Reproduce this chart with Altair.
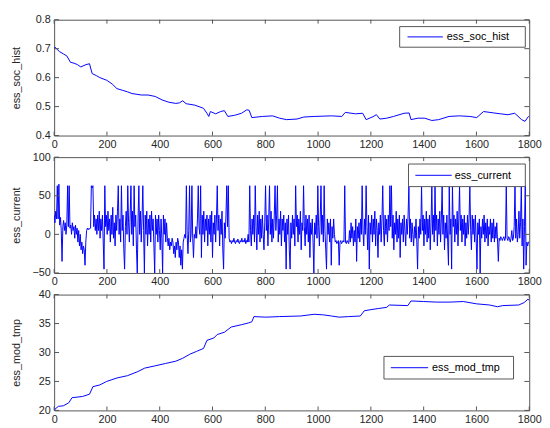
import altair as alt
import pandas as pd

# ---------------- data ----------------
XTICKS = [0, 200, 400, 600, 800, 1000, 1200, 1400, 1600, 1800]

T_SOC = [0, 3, 20, 35, 48, 62, 75, 88, 101, 121, 134, 144, 160, 173, 199, 220, 238, 260, 278, 295,
         310, 330, 356, 383, 409, 435, 461, 475, 487, 500, 533, 566, 579, 586, 592, 612, 631, 645, 658, 684,
         710, 730, 739, 749, 789, 828, 854, 880, 920, 946, 985, 1051, 1090, 1103, 1142, 1169, 1182, 1208, 1221, 1234,
         1260, 1286, 1326, 1345, 1352, 1378, 1404, 1431, 1457, 1496, 1535, 1575, 1601, 1627, 1666, 1692, 1719, 1745,
         1771, 1784, 1797, 1800]
SOC = [0.700, 0.705, 0.690, 0.682, 0.675, 0.653, 0.650, 0.645, 0.637, 0.645, 0.648, 0.614, 0.607, 0.600, 0.591,
       0.578, 0.562, 0.556, 0.551, 0.545, 0.543, 0.540, 0.540, 0.535, 0.523, 0.515, 0.511, 0.513, 0.520, 0.510,
       0.505, 0.494, 0.477, 0.466, 0.483, 0.475, 0.483, 0.486, 0.466, 0.470, 0.477, 0.489, 0.487, 0.462, 0.466,
       0.468, 0.460, 0.455, 0.457, 0.464, 0.466, 0.468, 0.466, 0.480, 0.475, 0.477, 0.455, 0.465, 0.472, 0.457,
       0.460, 0.466, 0.477, 0.478, 0.455, 0.460, 0.460, 0.452, 0.455, 0.466, 0.468, 0.466, 0.462, 0.483, 0.478,
       0.475, 0.472, 0.477, 0.455, 0.449, 0.466, 0.466]

# current sampled every 3 s (t = 0, 3, ..., 1800), one row per minute
T_CUR = list(range(0, 1801, 3))
CUR = [
    25, 15, 30, 20, 63, 20, 65, 12, 22, 5, -35, 10, 18, 5, 15, 0, 12, 63, 10, 63,
    8, 12, 0, 15, 5, 10, -5, 12, 0, 8, -10, 5, -15, 0, -20, -10, -25, -15, -20, -40,
    -10, 5, 8, 6, 8, 7, 8, 63, 60, 63, 10, 25, 5, 20, 0, 25, 5, 30, -5, 20,
    5, 25, -10, -45, 63, 10, 25, 0, 30, 5, 20, -10, 25, 0, 35, -5, 15, -15, 25, 5,
    30, 63, 0, 20, -10, 63, 5, 25, -20, -45, 10, 30, 0, 63, 15, -10, 25, 63, 0, 30,
    -15, 63, 10, 25, -20, -50, 20, 63, 0, 30, -10, 20, 63, 5, -50, 25, 0, 30, -15, 20,
    0, 25, -10, 30, 5, 20, -15, -50, 25, 0, 20, -10, 25, 5, -20, 20, -5, -50, 25, 0,
    20, -10, 15, -5, -15, -5, -20, -10, -15, -5, -10, -25, -15, -30, -10, -20, -5, -10, -30, -15,
    -40, -20, -45, -10, -5, 0, -5, 63, 0, -25, 5, 63, -10, 0, 63, -5, -30, 0, -5, 10,
    -5, 20, 63, 10, 0, 63, -30, 25, 0, 30, -10, 20, 5, 25, -15, 20, 0, 25, -10, 30,
    -30, 15, 0, 25, -10, 20, 63, 5, 25, -15, 20, 0, 30, -20, -45, 15, -5, 25, 63, 10,
    63, -5, -10, -8, -12, -8, -10, -5, -10, -12, -8, -10, -6, -10, -12, -8, -10, -5, -10, -8,
    -10, -5, -12, -8, -10, 0, -10, 63, 5, -15, 20, 0, 25, -10, 63, 10, -20, 25, 0, 30,
    -10, 20, -5, 25, 0, -20, 15, 63, 5, 25, -15, 20, 63, 0, 30, -10, 20, -5, 25, 63,
    5, 25, 63, -10, 20, 0, 30, -15, 20, 5, 25, -10, 15, -45, 20, 0, 25, -20, -45, 15,
    -5, 25, 0, 20, -15, 63, 10, 25, -10, 20, 0, 30, -20, 15, 5, 63, 10, -15, 25, 0,
    20, -10, 25, -30, 15, 0, 20, -10, -50, 15, 0, 25, -5, 63, 10, -15, 20, 63, 0, 25,
    -10, 63, 5, -20, -45, 20, 0, 15, -10, 20, -40, 10, -5, 20, 0, -10, -8, -12, -10, -8,
    -40, -10, -8, -12, -10, -8, -10, 63, -10, -12, -8, -10, -12, 5, -10, 15, -5, 10, -15, 5,
    -10, 20, -35, 10, -5, 15, -10, 20, 0, 63, 5, -15, 20, 0, 63, 10, -20, 25, -45, 15,
    0, 25, -10, 20, 0, 30, -15, 20, 5, -30, 15, 0, 25, -10, 20, 63, 5, -15, 25, 0,
    20, -10, 25, 5, 63, 10, 63, -5, 25, -20, 15, 0, 30, -10, 20, -5, 25, -30, 15, 0,
    20, -10, 25, 5, -15, 20, 0, 25, 63, -5, 20, -10, 15, 0, -15, 10, -5, 20, -10, -45,
    10, -5, 20, 0, 63, 5, 25, -15, 20, 0, 30, -10, 20, -5, 25, -20, 15, 63, 0, 25,
    -10, 63, 5, 25, -15, 20, 0, 30, -10, 20, 63, 0, 25, -20, 15, -5, 25, -10, -40, 63,
    0, 20, -45, 63, 10, 25, -10, 20, 0, 30, -15, 20, 63, 5, 25, -10, 20, 0, 25, -15,
    15, -5, 25, 0, 20, 63, 5, -20, 25, 0, 20, -10, 25, -5, -45, 15, 0, 20, -50, 10,
    -5, 20, 0, 25, -10, 15, -5, 20, -15, 10, 0, 20, -10, 15, -5, 20, -10, 10, -5, 15,
    -10, -35, -5, -8, -3, -5, -8, -5, -3, -8, -5, 63, -5, -8, -3, -5, -10, -5, 5, -8,
    -5, 10, 63, -5, 20, -10, 0, 30, -5, 15, 63, -15, 20, -45, 10, 63, -40, -10, -15, -10,
    -10,
]

T_TMP = [0, 3, 16, 35, 55, 68, 107, 134, 147, 173, 199, 238, 278, 317, 343, 383, 422, 461, 487, 514,
         540, 566, 579, 605, 618, 645, 671, 710, 736, 749, 757, 802, 854, 933, 985, 1020, 1051, 1080, 1116,
         1160, 1175, 1200, 1230, 1260, 1270, 1340, 1352, 1400, 1450, 1500, 1550, 1600, 1650, 1680, 1700,
         1760, 1780, 1795, 1800]
TMP = [20.0, 20.2, 20.7, 20.8, 21.3, 22.2, 22.4, 22.8, 24.1, 24.4, 25.0, 25.6, 26.0, 26.7, 27.3, 27.7, 28.1,
       28.5, 29.0, 29.7, 30.2, 30.7, 32.1, 32.5, 33.1, 33.5, 34.4, 34.8, 35.1, 35.3, 36.2, 36.1, 36.2, 36.3,
       36.6, 36.5, 36.3, 36.1, 36.2, 36.3, 37.2, 37.4, 37.6, 37.8, 38.2, 38.1, 38.9, 38.8, 38.7, 38.7, 38.8,
       38.4, 38.2, 37.9, 38.1, 38.2, 38.6, 39.2, 39.0]

assert len(T_SOC) == len(SOC) and len(T_CUR) == len(CUR) and len(T_TMP) == len(TMP)

# ---------------- styling ----------------
W, H = 484, 118
FONT = "Liberation Sans"
FRAME = "#555555"
TXT = "#262626"
BLUE = "#0000ff"


def panel(t, v, ydom, yvals, yfmt, ytitle, box, line_x, text_x, label):
    df = pd.DataFrame({"t": t, "v": v})
    xs = alt.Scale(domain=[0, 1800], nice=False, zero=False)
    ys = alt.Scale(domain=ydom, nice=False, zero=False)
    xax = alt.Axis(values=XTICKS, format="d", title=None, labelFlush=False,
                   ticks=False, domain=False, grid=False, labelPadding=3)
    yax = alt.Axis(values=yvals, format=yfmt, title=ytitle, titleX=-33,
                   ticks=False, domain=False, grid=False, labelPadding=4)
    line = alt.Chart(df).mark_line(color=BLUE, strokeWidth=1, clip=True).encode(
        x=alt.X("t:Q", scale=xs, axis=xax),
        y=alt.Y("v:Q", scale=ys, axis=yax),
    )
    xt = pd.DataFrame({"t": XTICKS})
    yt = pd.DataFrame({"v": yvals})
    xb = alt.Chart(xt).mark_rule(color=FRAME).encode(
        x=alt.X("t:Q", scale=xs, axis=xax), y=alt.value(H), y2=alt.value(H - 4))
    xtp = alt.Chart(xt).mark_rule(color=FRAME).encode(
        x=alt.X("t:Q", scale=xs, axis=xax), y=alt.value(0), y2=alt.value(4))
    yl = alt.Chart(yt).mark_rule(color=FRAME).encode(
        y=alt.Y("v:Q", scale=ys, axis=yax), x=alt.value(0), x2=alt.value(5))
    yr = alt.Chart(yt).mark_rule(color=FRAME).encode(
        y=alt.Y("v:Q", scale=ys, axis=yax), x=alt.value(W), x2=alt.value(W - 5))
    one = pd.DataFrame({"a": [0]})
    bx0, bx1, by0, by1 = box
    ymid = (by0 + by1) / 2
    lbox = alt.Chart(one).mark_rect(fill="white", stroke=FRAME, strokeWidth=1).encode(
        x=alt.value(bx0), x2=alt.value(bx1), y=alt.value(by0), y2=alt.value(by1))
    lline = alt.Chart(one).mark_rule(color=BLUE, strokeWidth=1).encode(
        x=alt.value(line_x[0]), x2=alt.value(line_x[1]), y=alt.value(ymid))
    ltext = alt.Chart(one).mark_text(align="left", baseline="middle", font=FONT, fontSize=11,
                                     color="#000000").encode(
        x=alt.value(text_x), y=alt.value(ymid + 0.5), text=alt.value(label))
    return alt.layer(line, xb, xtp, yl, yr, lbox, lline, ltext).properties(width=W, height=H)


p1 = panel(T_SOC, SOC, [0.4, 0.8], [0.4, 0.5, 0.6, 0.7, 0.8], ".1f", "ess_soc_hist",
           (352, 480, 7, 28), (360, 396), 400, "ess_soc_hist")
p2 = panel(T_CUR, CUR, [-50, 100], [-50, 0, 50, 100], "d", "ess_current",
           (361, 480, 7, 30), (368, 405), 408, "ess_current")
p3 = panel(T_TMP, TMP, [20, 40], [20, 25, 30, 35, 40], "d", "ess_mod_tmp",
           (336, 468, 63, 86), (343, 381), 385, "ess_mod_tmp")

chart = alt.vconcat(p1, p2, p3, spacing=22, bounds="flush").properties(
    padding={"left": 2, "top": 1, "right": 0, "bottom": 0},
    background="white",
).configure_view(stroke=FRAME, strokeWidth=1).configure_axis(
    labelFont=FONT, labelFontSize=11, labelColor=TXT,
    titleFont=FONT, titleFontSize=11, titleFontWeight="normal", titleColor=TXT,
)

chart.save("out.html", embed_options={"renderer": "svg", "actions": False})
